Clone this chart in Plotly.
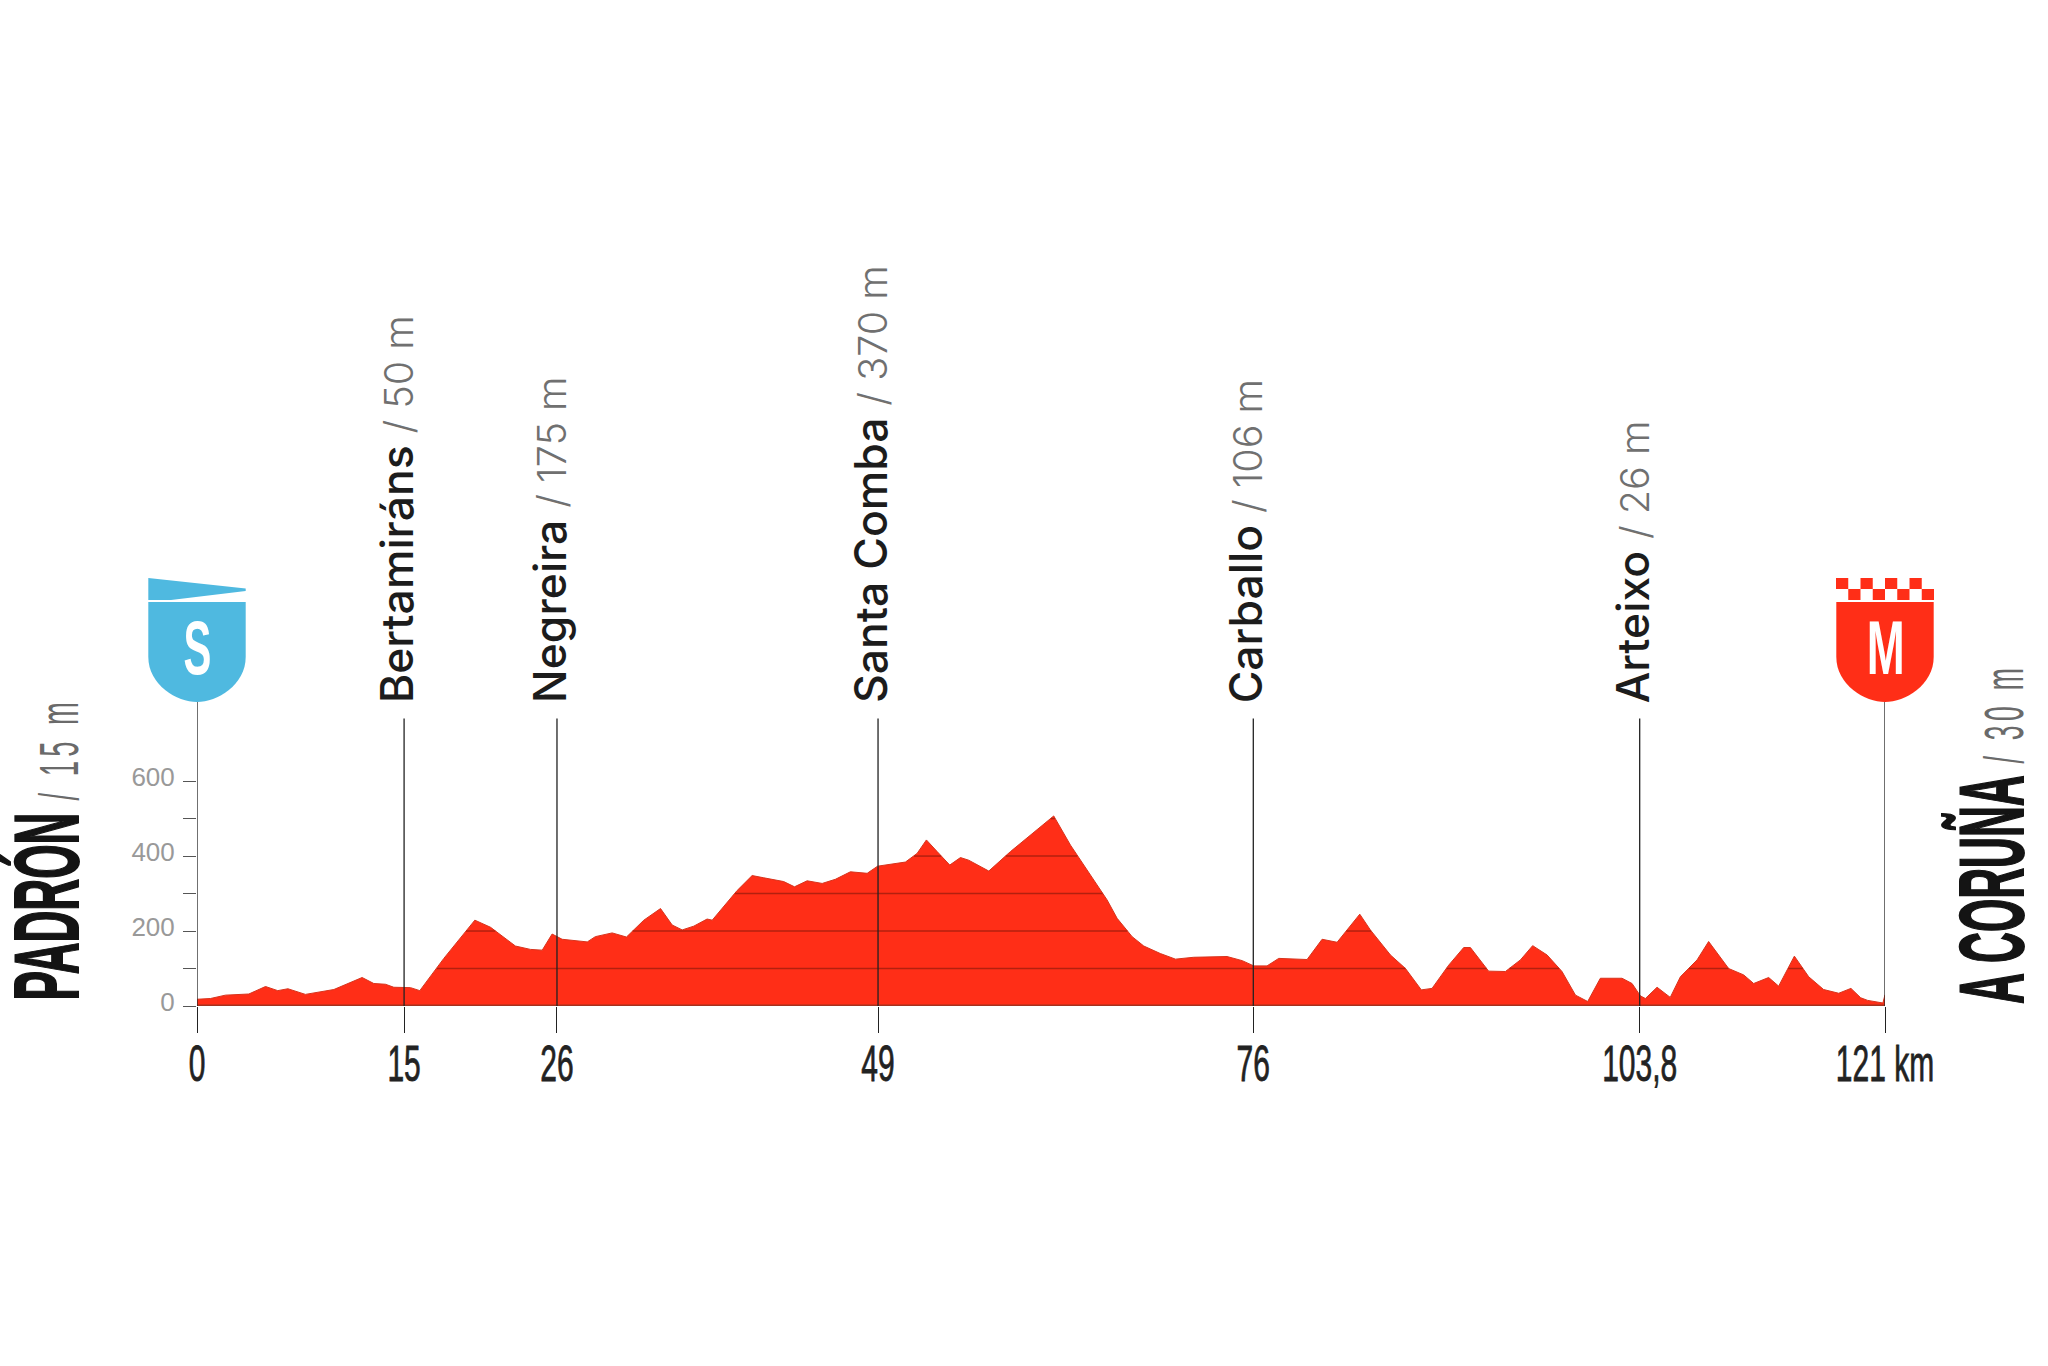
import numpy as np
import plotly.graph_objects as go

# profile: km / metres
km = [0, 0.97, 2.05, 3.73, 4.93, 5.81, 6.54, 7.8, 9.85, 11.88, 12.72, 13.56, 14.16, 15.36, 16.03, 17.76, 19.99,
      21.12, 22.91, 23.99, 24.84, 25.55, 26.27, 28.08, 28.66, 29.87, 30.9, 32.15, 33.35, 34.19, 34.91, 35.74, 36.7, 37.07, 38.86, 39.94, 40.78,
      41.26, 42.21, 42.99, 43.9, 44.98, 45.93, 47.01, 48.22, 48.97, 50.97, 51.81, 52.48, 53.25, 54.16, 54.93, 55.52, 56.97, 58.53, 61.64, 62.85,
      65.48, 66.2, 67.28, 68.12, 69.31, 70.4, 71.71, 74.11, 75.2, 76.03, 76.99, 77.83, 79.87, 80.95, 82.03,
      83.66, 84.42, 85.87, 86.95, 88.09, 88.86, 90.06, 91.14, 91.62, 92.93, 94.14, 95.22, 96.1, 97.14, 98.21, 99.18, 100.06, 100.97, 102.53, 103.25,
      103.85, 104.21, 105.05, 106.0, 106.73, 107.93, 108.76, 110.2, 111.28, 112.0, 113.08, 113.8, 114.93, 115.96, 117.03, 118.12, 119.0, 119.7, 120.2, 121.3, 121.45]
elev = [18, 20, 29, 32, 52, 41, 46, 31, 44, 76, 60, 58, 50, 49, 41, 127, 229,
        210, 160, 151, 149, 192, 178, 171, 185, 195, 184, 229, 260, 216, 203, 213, 232, 229, 308, 348, 342,
        338, 332, 318, 334, 327, 338, 358, 354, 373, 384, 407, 443, 412, 376, 396, 389, 360, 412, 507, 429,
        283, 234, 185, 160, 140, 125, 130, 132, 121, 107, 107, 127, 124, 178, 170,
        245, 203, 136, 100, 43, 47, 109, 156, 156, 93, 92, 123, 161, 136, 92, 29, 12, 74, 74, 60,
        27, 20, 50, 23, 78, 123, 172, 100, 83, 60, 76, 53, 133, 78, 44, 34, 47, 22, 15, 8, 30]

tick_km = [0, 14.9, 25.9, 49, 76, 103.8, 121.45]
tick_labels = ["0", "15", "26", "49", "76", "103,8", "121 km"]
towns = ["Bertamiráns", "Negreira", "Santa Comba", "Carballo", "Arteixo"]
town_km = [14.9, 25.9, 49, 76, 103.8]
town_alt = ["50 m", "175 m", "370 m", "106 m", "26 m"]
y_ticks = [0, 100, 200, 300, 400, 500, 600]
y_labels = ["0", "", "200", "", "400", "", "600"]

RED = "#ff2e17"
BLUE = "#4fb9e0"
DARK = "#222222"
Y_TOP = 811
W, H = 2048, 1366
L, R, T, B = 196.5, 163, 702, 360

fig = go.Figure()
fig.add_trace(go.Scatter(x=km, y=elev, mode="lines", fill="tozeroy", fillcolor=RED,
                         line=dict(color="#d8331c", width=1), showlegend=False, hoverinfo="skip"))

# grid only shows inside the red area
xs = np.linspace(0, km[-1], 3000)
prof = np.interp(xs, km, elev)
for level in [100, 200, 300, 400, 500]:
    ys = [level if p >= level else None for p in prof]
    fig.add_trace(go.Scatter(x=xs, y=ys, mode="lines", line=dict(color="#b3200f", width=1.5),
                             showlegend=False, hoverinfo="skip"))
fig.add_trace(go.Scatter(x=[0, km[-1]], y=[0, 0], mode="lines", line=dict(color="#a5321f", width=3),
                         showlegend=False, hoverinfo="skip"))

for k in town_km:
    fig.add_trace(go.Scatter(x=[k, k], y=[0, 767], mode="lines", line=dict(color=DARK, width=1.3),
                             showlegend=False, hoverinfo="skip"))
for k in [0, km[-1]]:
    fig.add_trace(go.Scatter(x=[k, k], y=[0, Y_TOP], mode="lines", line=dict(color=DARK, width=1.3),
                             showlegend=False, hoverinfo="skip"))

LIGHT = 'style="font-size:39.5px;font-weight:300;color:#707070"'
annotations = []
for name, k, alt in zip(towns, town_km, town_alt):
    annotations.append(dict(x=k, y=Y_TOP, xref="x", yref="y", xanchor="center", yanchor="bottom", xshift=-7, yshift=-3,
                            textangle=-90, showarrow=False,
                            font=dict(family="Inter", size=44.5, color="#1c1c1c", weight=500),
                            text=f"{name} <span {LIGHT}>/ {alt}</span>"))


def px(x):
    return (x - L) / (W - L - R)


def py(y):
    return (H - B - y) / (H - T - B)


HEAVY = 'style="stroke:#141414;stroke-width:2px"'
COND = 'style="font-size:56px;font-weight:400;color:#6a6a6a;letter-spacing:9px"'
annotations.append(dict(x=px(46), y=py(1003), xref="paper", yref="paper", xanchor="center", yanchor="bottom",
                        textangle=-90, showarrow=False,
                        font=dict(family="Liberation Sans", size=90, color="#141414", weight=700),
                        text=f"<span {HEAVY}>PADRÓN</span> <span {COND}>/ 15 m</span>"))
annotations.append(dict(x=px(1992), y=py(1004), xref="paper", yref="paper", xanchor="center", yanchor="bottom",
                        textangle=-90, showarrow=False,
                        font=dict(family="Liberation Sans", size=90, color="#141414", weight=700),
                        text=f"<span {HEAVY}>A CORUÑA</span> <span {COND}>/ 30 m</span>"))
annotations.append(dict(x=0, y=Y_TOP, xref="x", yref="y", yshift=55, showarrow=False, yanchor="middle",
                        font=dict(family="Liberation Sans", size=76, color="white", weight=700), text="S"))
annotations.append(dict(x=km[-1], y=Y_TOP, xref="x", yref="y", yshift=55, showarrow=False, yanchor="middle",
                        font=dict(family="Liberation Sans", size=76, color="white", weight=700), text="M"))

SHIELD = "M-48.7,100 L48.7,100 L48.7,45 C48.7,17 20,0 0,0 C-20,0 -48.7,17 -48.7,45 Z"
PENNANT = "M-48.7,102 L-48.7,124 L48.7,113.5 L48.7,111 L-26,102 Z"
shapes = []
for anchor, color, path in [(0, BLUE, SHIELD), (0, BLUE, PENNANT), (1, RED, SHIELD)]:
    shapes.append(dict(type="path", xsizemode="pixel", ysizemode="pixel", xanchor=anchor, yanchor=1,
                       xref="paper", yref="paper", path=path, fillcolor=color, line=dict(width=0)))
# finish flag checks
for col in range(8):
    row = col % 2
    x0 = -49 + col * 12.25
    y0 = 102 + (1 - row) * 11
    shapes.append(dict(type="rect", xsizemode="pixel", ysizemode="pixel", xanchor=1, yanchor=1,
                       xref="paper", yref="paper", x0=x0, x1=x0 + 12.25, y0=y0, y1=y0 + 11,
                       fillcolor=RED, line=dict(width=0)))

fig.update_layout(
    width=W, height=H, margin=dict(l=L, r=R, t=T, b=B, autoexpand=False),
    paper_bgcolor="white", plot_bgcolor="white", showlegend=False,
    annotations=annotations, shapes=shapes,
    xaxis=dict(range=[0, km[-1]], tickmode="array", tickvals=tick_km, ticktext=tick_labels, ticks="outside",
               ticklen=26, tickwidth=1.3, tickcolor=DARK, showgrid=False, zeroline=False, showline=False,
               tickangle=0, ticklabelstandoff=10,
               tickfont=dict(family="Liberation Sans", size=50, color="#222222")),
    yaxis=dict(range=[0, Y_TOP], tickmode="array", tickvals=y_ticks, ticktext=y_labels, ticks="outside",
               ticklen=13, tickwidth=1.2, tickcolor="#555555", showgrid=False, zeroline=False, showline=False,
               ticklabelstandoff=3,
               tickfont=dict(family="Liberation Sans", size=26, color="#999999")),
)

# the original lettering is very condensed, squeeze the real text along its length
post = """
document.body.style.margin = 0;
var squeeze = function (el, sx, origin, dy) {
  var list = el.transform.baseVal, m = list.numberOfItems ? list.consolidate().matrix : {e: 0, f: 0};
  el.style.transformBox = 'fill-box';
  el.style.transformOrigin = origin;
  el.style.transform = 'translate(' + m.e + 'px,' + (m.f + dy) + 'px) scaleX(' + sx + ')';
};
document.querySelectorAll('.xtick text').forEach(function (el) {
  squeeze(el, 0.6, 'center', -22);
  el.style.stroke = '#222222';
  el.style.strokeWidth = '0.8px';
});
document.querySelectorAll('.ytick text').forEach(function (el) { squeeze(el, 1, 'center', -4); });
document.querySelectorAll('.annotation-text').forEach(function (el) {
  var t = el.textContent;
  if (t.indexOf('PADR') === 0) { squeeze(el, 0.49, 'left center', 0); }
  if (t.indexOf('A CORU') === 0) { squeeze(el, 0.475, 'left center', 0); }
  if (t === 'S') { squeeze(el, 0.55, 'center', 0); }
  if (t === 'M') { squeeze(el, 0.6, 'center', 0); }
});
"""
fig.write_html("out.html", post_script=post, config={"displayModeBar": False})
